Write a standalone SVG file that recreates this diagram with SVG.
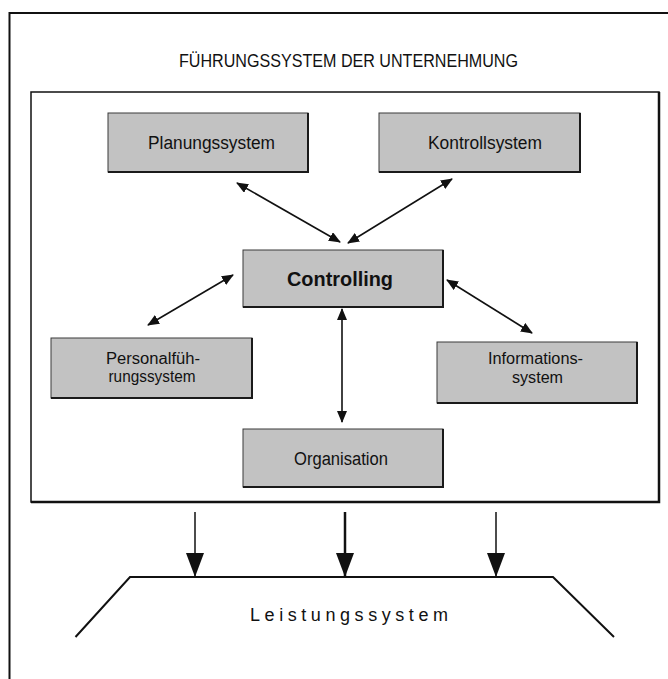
<svg xmlns="http://www.w3.org/2000/svg" width="668" height="679" viewBox="0 0 668 679">
<defs>
<style>
.box{fill:#c2c2c2;stroke:#3a3a3a;stroke-width:1}
.shadow{fill:none;stroke:#1a1a1a;stroke-width:2}
.lbl{font-family:"Liberation Sans",Arial,sans-serif;font-size:18px;fill:#111;text-anchor:middle}
.two{font-size:16px}
.bold{font-weight:bold;font-size:21px}
.con{stroke:#111;stroke-width:1.6;fill:none}
.down{stroke:#111;fill:none}
.frame{fill:none;stroke:#111}
</style>
<marker id="ah" viewBox="0 0 12 10" refX="11" refY="5" markerWidth="12" markerHeight="10" markerUnits="userSpaceOnUse" orient="auto-start-reverse">
<path d="M0,0 L12,5 L0,10 z" fill="#111"/>
</marker>
<marker id="bh" viewBox="0 0 24 18" refX="23" refY="9" markerWidth="24" markerHeight="18" markerUnits="userSpaceOnUse" orient="auto">
<path d="M0,0 L24,9 L0,18 z" fill="#111"/>
</marker>
</defs>
<rect width="668" height="679" fill="#fff"/>

<g id="outer-frame">
<polyline class="frame" stroke-width="2" points="9.5,679 9.5,13 668,13"/>
<text class="lbl" x="348.5" y="66.5" textLength="339" lengthAdjust="spacingAndGlyphs">FÜHRUNGSSYSTEM DER UNTERNEHMUNG</text>
</g>

<g id="inner-frame">
<rect class="frame" stroke-width="1.5" x="31" y="92" width="628" height="410"/>
<polyline class="frame" stroke-width="2.5" points="659,92 659,502 31,502"/>
</g>

<g id="planungssystem">
<rect class="box" x="108" y="113" width="200" height="59"/>
<polyline class="shadow" points="308,113 308,172 108,172"/>
<text class="lbl" x="211.5" y="148.5" textLength="127" lengthAdjust="spacingAndGlyphs">Planungssystem</text>
</g>

<g id="kontrollsystem">
<rect class="box" x="379" y="113" width="201" height="59"/>
<polyline class="shadow" points="580,113 580,172 379,172"/>
<text class="lbl" x="485" y="148.5" textLength="114" lengthAdjust="spacingAndGlyphs">Kontrollsystem</text>
</g>

<g id="controlling">
<rect class="box" x="243" y="250" width="200" height="57"/>
<polyline class="shadow" points="443,250 443,307 243,307"/>
<text class="lbl bold" x="340" y="286" textLength="106" lengthAdjust="spacingAndGlyphs">Controlling</text>
</g>

<g id="personalfuehrungssystem">
<rect class="box" x="51" y="338" width="201" height="60"/>
<polyline class="shadow" points="252,338 252,398 51,398"/>
<text class="lbl two" x="153" y="364" textLength="94" lengthAdjust="spacingAndGlyphs">Personalfüh-</text>
<text class="lbl two" x="152" y="382" textLength="87" lengthAdjust="spacingAndGlyphs">rungssystem</text>
</g>

<g id="informationssystem">
<rect class="box" x="437" y="342" width="200" height="61"/>
<polyline class="shadow" points="637,342 637,403 437,403"/>
<text class="lbl two" x="535.5" y="364" textLength="95" lengthAdjust="spacingAndGlyphs">Informations-</text>
<text class="lbl two" x="537.5" y="382.5" textLength="51" lengthAdjust="spacingAndGlyphs">system</text>
</g>

<g id="organisation">
<rect class="box" x="243" y="429" width="200" height="58"/>
<polyline class="shadow" points="443,429 443,487 243,487"/>
<text class="lbl" x="341" y="464.5" textLength="94" lengthAdjust="spacingAndGlyphs">Organisation</text>
</g>

<g id="leistungssystem">
<polyline fill="none" stroke="#111" stroke-width="2" points="75.5,637 130,577 553,577 614,637"/>
<text class="lbl" x="349" y="621" font-size="19" textLength="198" lengthAdjust="spacing">Leistungssystem</text>
</g>

<g id="connectors">
<line class="con" x1="237" y1="183" x2="340" y2="242" marker-start="url(#ah)" marker-end="url(#ah)"/>
<line class="con" x1="452" y1="179" x2="348" y2="243" marker-start="url(#ah)" marker-end="url(#ah)"/>
<line class="con" x1="148" y1="325" x2="233" y2="275" marker-start="url(#ah)" marker-end="url(#ah)"/>
<line class="con" x1="532" y1="333" x2="447" y2="280" marker-start="url(#ah)" marker-end="url(#ah)"/>
<line class="con" x1="342" y1="309" x2="342" y2="422" marker-start="url(#ah)" marker-end="url(#ah)"/>
<line class="down" stroke-width="1.5" x1="195" y1="512" x2="195" y2="576" marker-end="url(#bh)"/>
<line class="down" stroke-width="2.5" x1="345" y1="512" x2="345" y2="576" marker-end="url(#bh)"/>
<line class="down" stroke-width="1.5" x1="496" y1="512" x2="496" y2="576" marker-end="url(#bh)"/>
</g>
</svg>
